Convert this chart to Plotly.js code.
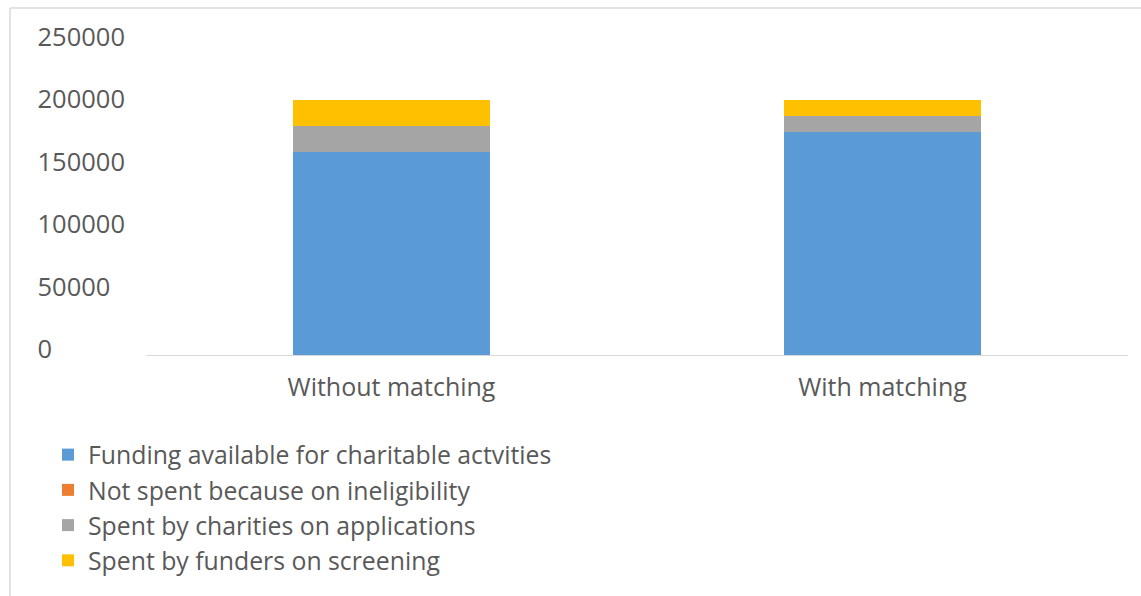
<!DOCTYPE html>
<html>
<head>
<meta charset="utf-8">
<script src="https://cdn.plot.ly/plotly-3.0.1.min.js"></script>
<style>html,body{margin:0;padding:0;background:#fff;}#chart{width:1141px;height:596px;}</style>
</head>
<body>
<div id="chart"></div>
<script>
const categories = ["Without matching", "With matching"];
const seriesNames = [
  "Funding available for charitable actvities",
  "Not spent because on ineligibility",
  "Spent by charities on applications",
  "Spent by funders on screening"
];
const fundingAvailable = [163000, 179000];
const notSpentIneligible = [0, 0];
const spentByCharities = [20500, 12800];
const spentByFunders = [20800, 12600];
const yTickVals = [0, 50000, 100000, 150000, 200000, 250000];
const yTickLabels = ["0", "50000", "100000", "150000", "200000", "250000"];

const colors = ["#5B9BD5", "#ED7D31", "#A5A5A5", "#FFC000"];
const seriesValues = [fundingAvailable, notSpentIneligible, spentByCharities, spentByFunders];

const FS = "\u2007";
const paddedLabels = yTickLabels.map(t => t + FS.repeat(6 - t.length));

const traces = seriesValues.map((vals, i) => ({
  type: "bar",
  name: seriesNames[i],
  x: categories,
  y: vals,
  marker: {color: colors[i]},
  hoverinfo: "name+y"
}));

const W = 1141, H = 596;
const L = 146, R = 1128, T = 43, B = 355;
const pw = R - L, ph = B - T;
const px = v => (v - L) / pw;
const py = v => (B - v) / ph;

const layout = {
  width: W, height: H,
  margin: {l: L, r: W - R, t: T, b: H - B, pad: 0},
  barmode: "stack",
  bargap: 0.6,
  paper_bgcolor: "#ffffff",
  plot_bgcolor: "#ffffff",
  font: {family: "Open Sans, sans-serif", color: "#595959"},
  showlegend: true,
  legend: {
    orientation: "v",
    traceorder: "normal",
    x: px(48), xanchor: "left",
    y: py(432), yanchor: "top",
    font: {size: 24.8, color: "#595959"},
    bgcolor: "rgba(0,0,0,0)"
  },
  xaxis: {
    type: "category",
    showgrid: false,
    showline: true,
    linecolor: "#d9d9d9",
    linewidth: 1,
    ticks: "",
    tickfont: {size: 25, color: "#595959"},
    ticklabelstandoff: 10,
    zeroline: false
  },
  yaxis: {
    range: [0, 250000],
    showgrid: false,
    showline: false,
    zeroline: false,
    ticks: "",
    tickmode: "array",
    tickvals: yTickVals,
    ticktext: paddedLabels,
    tickfont: {size: 25.5, color: "#595959"},
    ticklabelstandoff: 20,
    ticklabelshift: -6
  },
  shapes: [
    {type: "line", xref: "paper", yref: "paper", x0: px(10), x1: px(10), y0: py(8), y1: py(600), line: {color: "#d9d9d9", width: 1.5}},
    {type: "line", xref: "paper", yref: "paper", x0: px(10), x1: px(1145), y0: py(8), y1: py(8), line: {color: "#d9d9d9", width: 1.5}}
  ]
};

Plotly.newPlot("chart", traces, layout, {staticPlot: true, displayModeBar: false});
</script>
</body>
</html>
